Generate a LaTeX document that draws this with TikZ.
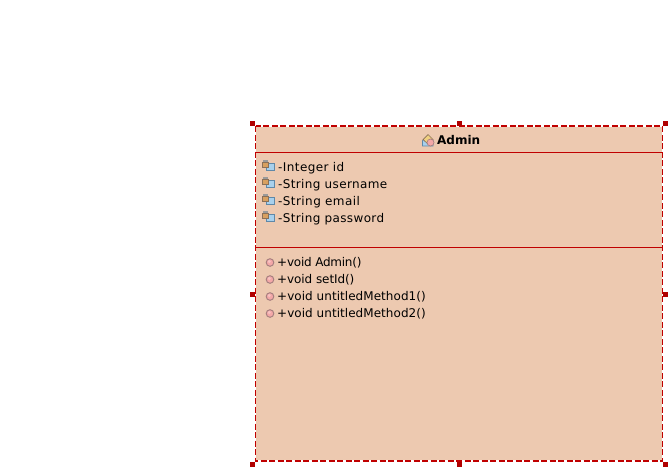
\documentclass[tikz,border=0pt]{standalone}
\usepackage{fontspec}
\setmainfont{DejaVu Sans}
\definecolor{fillc}{HTML}{EDC9B0}
\definecolor{redc}{HTML}{C00000}
\definecolor{handlec}{HTML}{B00000}
\definecolor{blueface}{HTML}{A8D0EC}
\definecolor{blueedge}{HTML}{5F88A8}
\definecolor{brownface}{HTML}{D8A060}
\definecolor{brownedge}{HTML}{8A7058}
\definecolor{capc}{HTML}{9A9A9A}
\definecolor{pinkc}{HTML}{F4A8A8}
\definecolor{pinkedge}{HTML}{A88080}
\definecolor{diamc}{HTML}{F0D080}
\tikzset{
  x=1pt,y=-1pt,
  handle/.style={fill=handlec,draw=none,minimum size=5pt,inner sep=0pt,outer sep=0pt},
  member/.style={anchor=base west,inner sep=0pt,font=\fontsize{12}{14}\selectfont,text=black},
  title/.style={anchor=base west,inner sep=0pt,font=\fontsize{12}{14}\selectfont\bfseries,text=black},
  sep/.style={draw=redc,line width=1pt},
  attr/.pic={
    \filldraw[fill=blueface,draw=blueedge,line width=.8pt] (1.5,-2) rectangle (9,5.5);
    \filldraw[fill=brownface,draw=brownedge,line width=.8pt] (-2.5,-3) rectangle (3.5,2);
    \fill[capc] (-2,-5.5) rectangle (3,-3);
  },
  meth/.pic={
    \filldraw[fill=pinkc,draw=pinkedge,line width=1pt] (0,0) circle (3.8);
    \fill[white,opacity=.3] (-0.8,-1) circle (1.6);
  }
}
\begin{document}
\begin{tikzpicture}
\useasboundingbox (0,0) rectangle (668,467);
\node[draw=none,fill=fillc,minimum width=407pt,minimum height=335pt,anchor=north west,inner sep=0pt,outer sep=0pt] (box) at (255.5,126) {};
\draw[draw=white,line width=1.2pt] (box.north west) rectangle (box.south east);
\draw[draw=redc,line width=1.2pt,dash pattern=on 6pt off 2.5pt] (box.north west) rectangle (box.south east);
\coordinate (l1) at (255.5,152.5); \coordinate (r1) at (662.5,152.5);
\coordinate (l2) at (255.5,247.5); \coordinate (r2) at (662.5,247.5);
\draw[sep] (l1) -- (r1);
\draw[sep] (l2) -- (r2);
\foreach \n/\x/\y in {a/252.5/123.5,b/459/123.5,c/665.5/123.5,d/252.5/294.5,e/665.5/294.5,f/252.5/464.5,g/459/464.5,h/665.5/464.5}
  \node[handle] (h\n) at (\x,\y) {};
% class icon
\filldraw[fill=blueface,draw=blueedge,line width=.7pt] (422.5,140.5) -- (428,137) -- (433,140.5) -- (433,146) -- (422.5,146) -- cycle;
\filldraw[fill=diamc,draw=brownedge,line width=.7pt] (423,139.5) -- (428,134.5) -- (433,139.5) -- (428,144) -- cycle;
\filldraw[fill=pinkc,draw=pinkedge,line width=.7pt] (430.5,142.5) circle (3.5);
\node[title] (t) at (437,144) {Admin};
\foreach \y/\s/\k [count=\i] in {171/-Integer id/3.5,188/-String username/3,205/-String email/3.5,222/-String password/3}{
  \pic at (265,\y-6) {attr};
  \node[member] (a\i) at (278,\y) {\addfontfeature{LetterSpace=\k}\s};
}
\foreach \y/\s/\k [count=\i] in {266/+void Admin()/-2,283/+void setId()/-0.7,300/+void untitledMethod1()/0.4,317/+void untitledMethod2()/0.4}{
  \pic at (270,\y-3.5) {meth};
  \node[member] (m\i) at (277,\y) {\addfontfeature{LetterSpace=\k}\s};
}
\end{tikzpicture}
\end{document}
